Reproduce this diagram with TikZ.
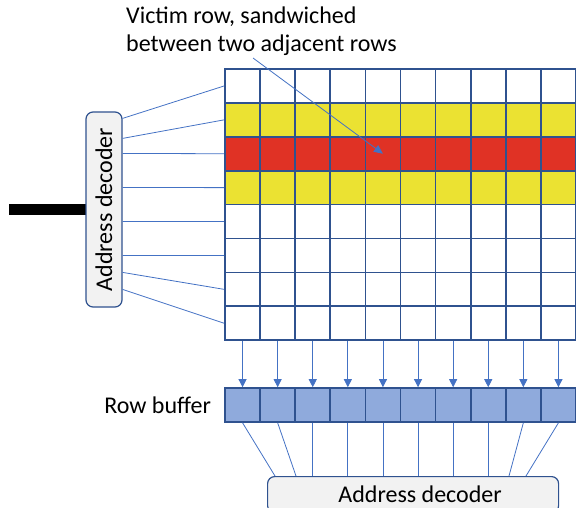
\documentclass[tikz,border=0pt]{standalone}
\usepackage{fontspec}
\setmainfont{Carlito}
\usetikzlibrary{arrows.meta,positioning}
\definecolor{hmblue}{RGB}{47,82,143}
\definecolor{hmwire}{RGB}{68,114,196}
\definecolor{hmbuf}{RGB}{143,170,220}
\definecolor{hmyellow}{RGB}{235,226,50}
\definecolor{hmred}{RGB}{224,50,37}
\definecolor{hmgray}{RGB}{242,242,242}

\tikzset{
  cell/.style={draw=hmblue, line width=1.7pt, minimum width=35.1pt, minimum height=33.9pt, inner sep=0pt},
  wire/.style={draw=hmwire, line width=0.8pt},
  decoder/.style={draw=hmblue, line width=1.2pt, fill=hmgray, rounded corners=7pt, inner sep=0pt},
}

\begin{document}
\begin{tikzpicture}[x=1pt, y=-1pt, font=\fontsize{24}{28}\selectfont]
\useasboundingbox (0,0) rectangle (576,508);

% memory array: 8 rows of 10 cells
\foreach \r/\fc in {1/white,2/hmyellow,3/hmred,4/hmyellow,5/white,6/white,7/white,8/white}
  \foreach \c in {1,...,10}
    \node[cell, fill=\fc] (c-\r-\c) at ({225+35.1*(\c-0.5)}, {69+33.9*(\r-0.5)}) {};

% row buffer
\foreach \c in {1,...,10}
  \node[cell, fill=hmbuf] (b-\c) at ({225+35.1*(\c-0.5)}, 405) {};
\node[left=13pt of b-1, inner sep=0pt] (rblabel) {Row buffer};

\foreach \c in {1,...,10}
  \draw[wire, -{Triangle[width=8pt,length=8pt]}] (c-8-\c.south) -- (b-\c.north);

% row address decoder
\coordinate (busin) at (9,209.5);
\draw[line width=10pt] (busin) -- (104,209.5);
\node[decoder, minimum width=36pt, minimum height=195pt] (ldec) at (104,209.5) {\rotatebox{90}{Address decoder}};
\foreach \r/\dy in {1/7,2/27,3/42,4/76,5/110,6/144,7/161,8/178}
  \draw[wire] ([yshift=-\dy pt]ldec.north east) -- (c-\r-1.west);

% column address decoder
\node[decoder, minimum width=291pt, minimum height=36pt, anchor=north west] (bdec) at (267,476) {\hspace{14pt}Address decoder};
\foreach \c/\dx in {1/8,2/29,9/242,10/259}
  \draw[wire] (b-\c.south) -- ([xshift=\dx pt]bdec.north west);
\foreach \c in {3,...,8}
  \draw[wire] (b-\c.south) -- (b-\c.south |- bdec.north);

% victim row note
\node[anchor=north west, align=left, inner sep=0pt] (note) at (126,7) {Victim row, sandwiched\\between two adjacent rows};
\coordinate (tail) at (253,58);
\draw[wire, -{Triangle[width=8pt,length=9pt]}] (tail) -- (c-3-5.center);
\end{tikzpicture}
\end{document}
